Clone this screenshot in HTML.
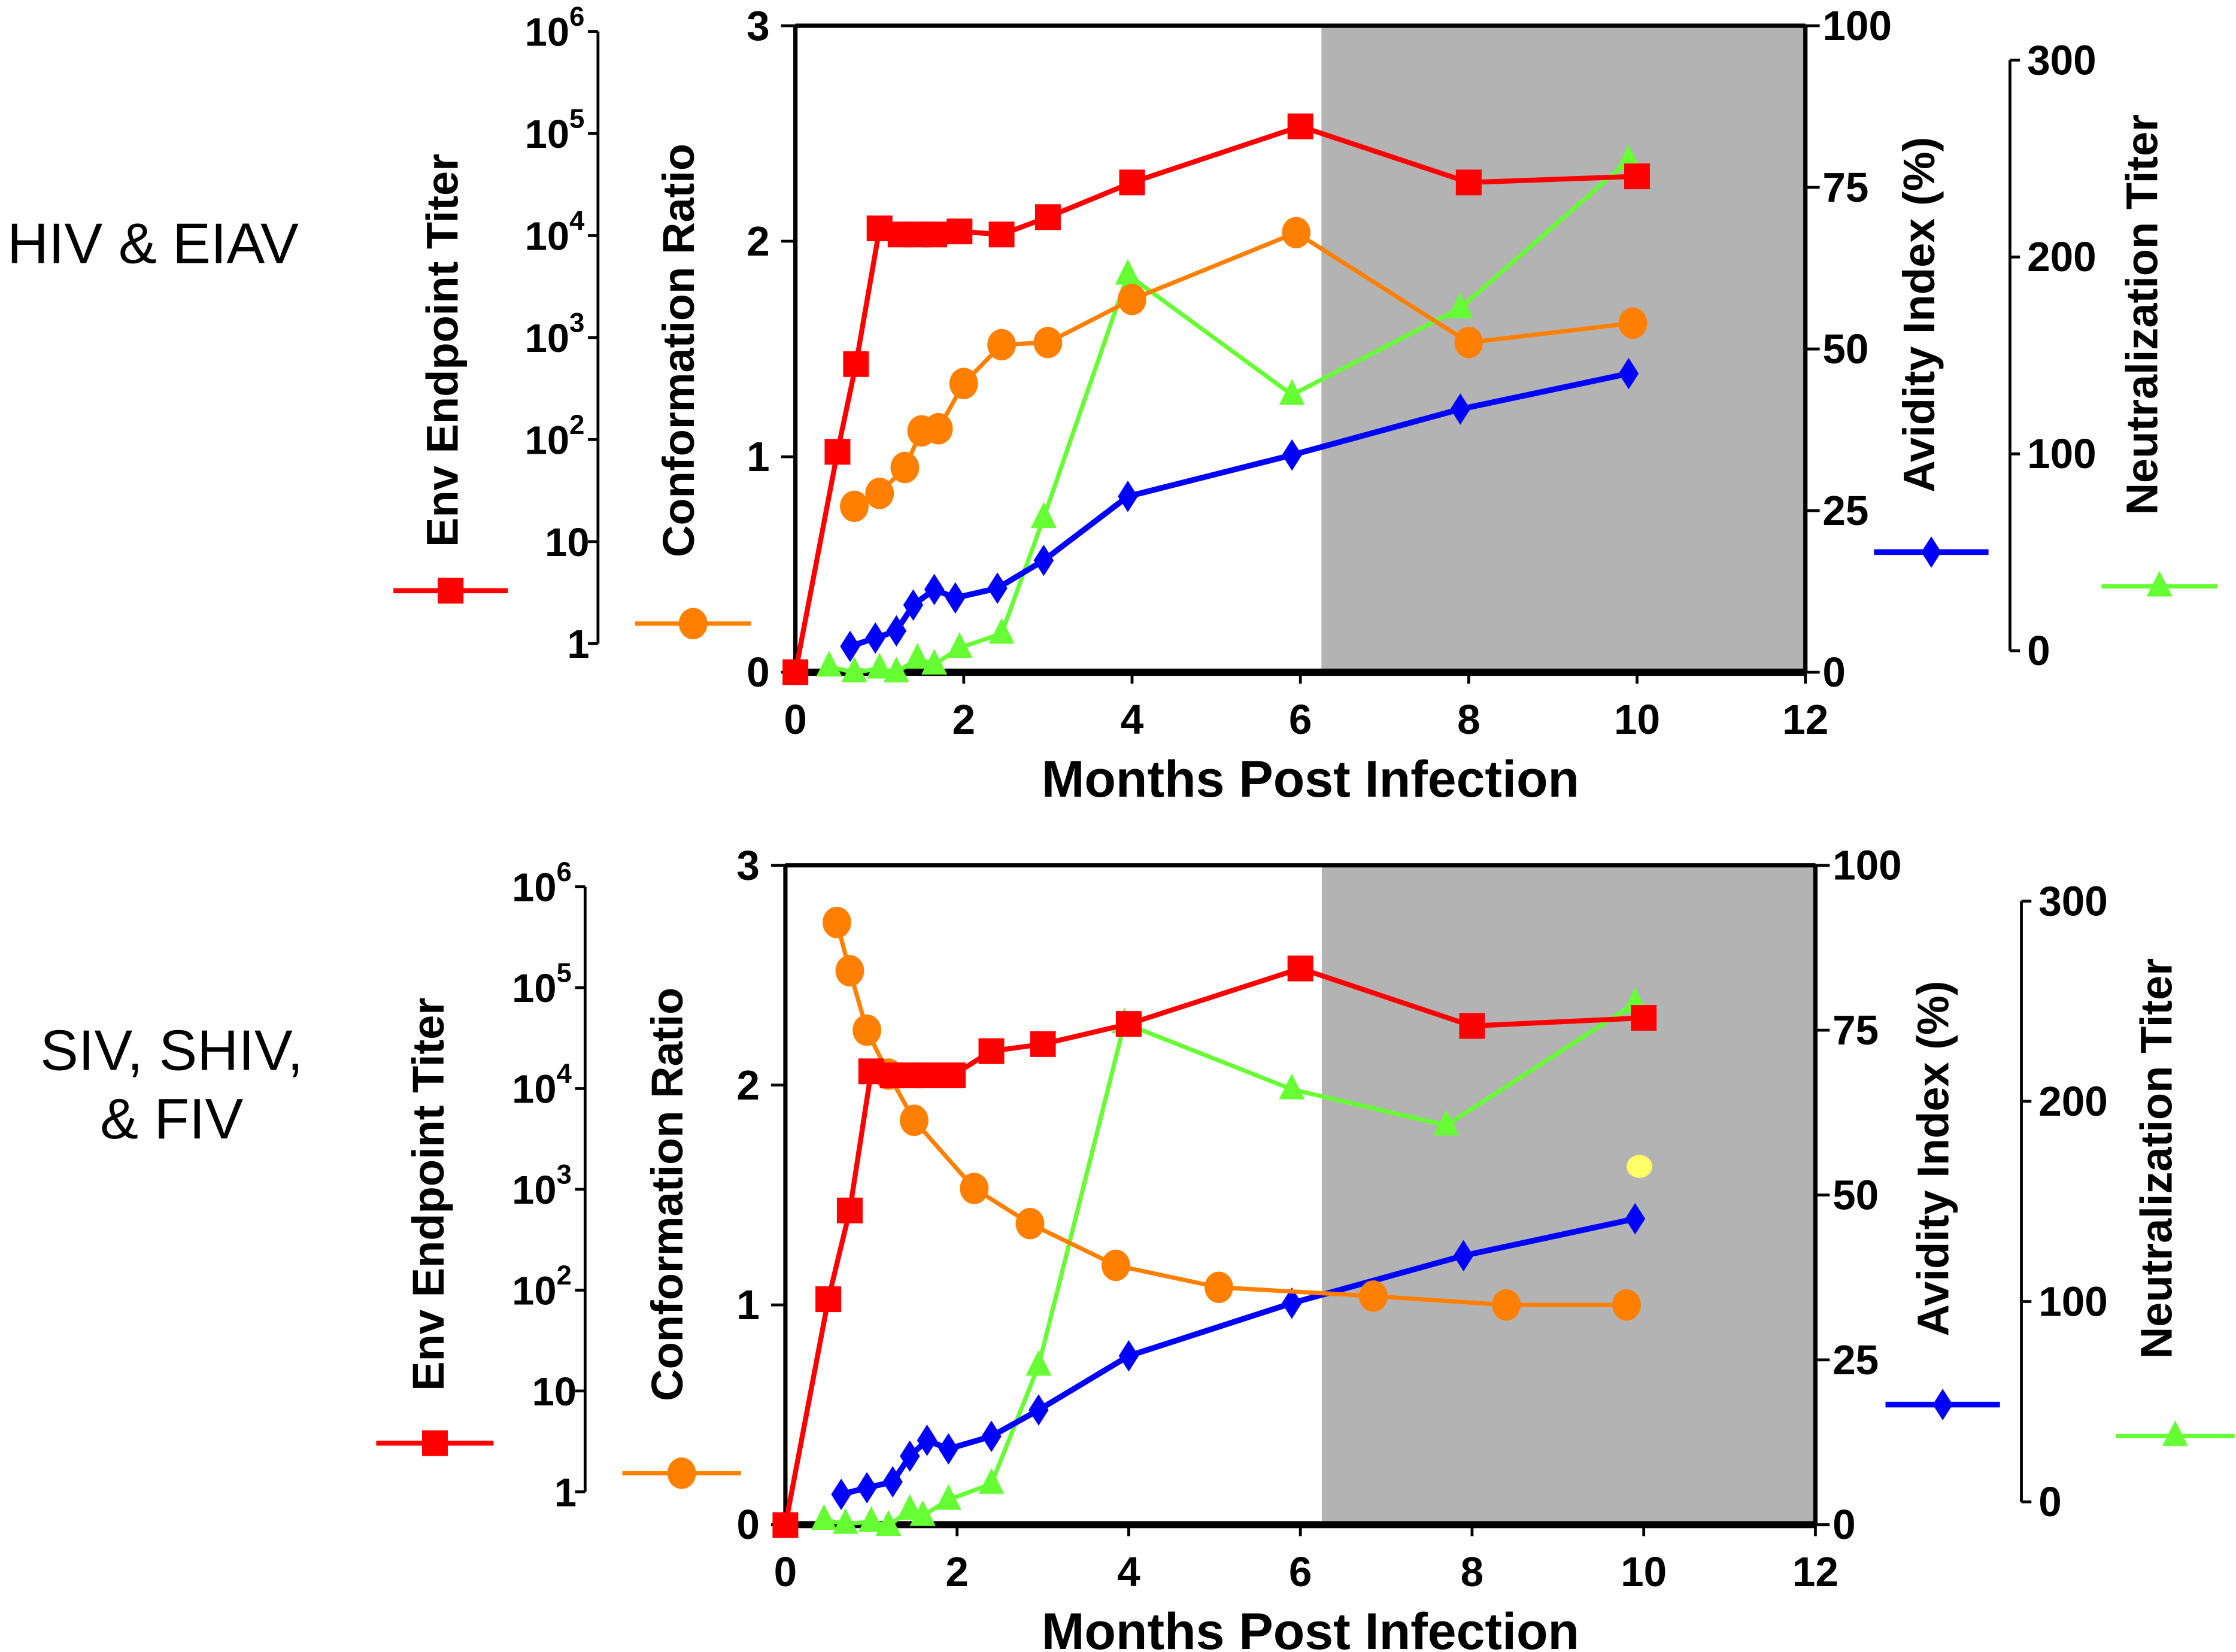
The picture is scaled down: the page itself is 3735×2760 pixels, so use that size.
<!DOCTYPE html>
<html><head><meta charset="utf-8"><style>
html,body{margin:0;padding:0;background:#fff}
svg{display:block;font-family:"Liberation Sans",Arial,sans-serif}
</style></head><body>
<svg id="chart" width="3735" height="2760" viewBox="0 0 1563 1155" xmlns="http://www.w3.org/2000/svg">
<text x="5" y="184" font-size="40">HIV &amp; EIAV</text>
<text x="120" y="748" font-size="40" text-anchor="middle">SIV, SHIV,</text>
<text x="120" y="796" font-size="40" text-anchor="middle">&amp; FIV</text>
</svg>
<script>
const monthTicks=[0,2,4,6,8,10,12];
const confTicks=[0,1,2,3];
const avidTicks=[0,25,50,75,100];
const neutTicks=[0,100,200,300];
const envTickExp=[0,1,2,3,4,5,6];
const envTickLabels=["1","10","10","10","10","10","10"];

const aRedX=[0,0.5,0.72,1.0,1.25,1.45,1.65,1.95,2.45,3.0,4.0,6.0,8.0,10.0];
const aRedLog=[-0.28,1.88,2.74,4.07,4.01,4.01,4.01,4.04,4.01,4.18,4.52,5.07,4.52,4.58];
const aOrX=[0.7,1.0,1.3,1.5,1.7,2.0,2.45,3.0,4.0,5.95,8.0,9.95];
const aOrY=[0.77,0.83,0.95,1.12,1.13,1.34,1.52,1.53,1.73,2.04,1.53,1.62];
const aBlX=[0.65,0.95,1.2,1.4,1.65,1.9,2.4,2.95,3.95,5.9,7.9,9.9];
const aBlY=[4.0,5.3,6.4,10.4,12.8,11.5,13,17.3,27.2,33.6,40.7,46.2];
const aGrX=[0.4,0.7,1.0,1.2,1.45,1.65,1.95,2.45,2.95,3.95,5.9,7.9,9.9];
const aGrY=[-8,-11,-9,-11,-4,-7,1.5,8.7,67.5,191,130,174,249];

const bRedX=[0,0.5,0.75,1.0,1.25,1.45,1.65,1.95,2.4,3.0,4.0,6.0,8.0,10.0];
const bRedLog=[-0.33,1.91,2.79,4.17,4.13,4.13,4.13,4.13,4.37,4.44,4.64,5.19,4.62,4.70];
const bOrX=[0.6,0.75,0.95,1.2,1.5,2.2,2.85,3.85,5.05,6.85,8.4,9.8];
const bOrY=[2.74,2.52,2.25,2.05,1.84,1.53,1.37,1.18,1.08,1.04,1.0,1.0];
const bYelX=[9.95];
const bYelY=[1.63];
const bBlX=[0.65,0.95,1.25,1.45,1.65,1.9,2.4,2.95,4.0,5.9,7.9,9.9];
const bBlY=[4.6,5.6,6.5,10.4,12.8,11.5,13.4,17.4,25.6,33.6,40.8,46.4];
const bGrX=[0.45,0.7,1.0,1.2,1.45,1.6,1.9,2.4,2.95,3.95,5.9,7.7,9.9];
const bGrY=[-9,-11,-10,-12,-4,-7,1,9,68,239,206,188,249];

const NS="http://www.w3.org/2000/svg";
const svg=document.getElementById('chart');
function mk(tag,attrs,parent,text){const e=document.createElementNS(NS,tag);for(const k in attrs)e.setAttribute(k,attrs[k]);if(text!==undefined)e.textContent=text;(parent||svg).appendChild(e);return e;}

function marker(g,type,cx,cy,color){
  let e;
  if(type==='sq'){e=mk('rect',{x:cx-9,y:cy-9,width:18,height:18,fill:color},g);}
  else if(type==='ci'){e=mk('ellipse',{cx:cx,cy:cy,rx:10,ry:11,fill:color},g);}
  else if(type==='di'){e=mk('polygon',{points:`${cx},${cy-11} ${cx+7},${cy} ${cx},${cy+11} ${cx-7},${cy}`,fill:color},g);}
  else {e=mk('polygon',{points:`${cx},${cy-11} ${cx+9},${cy+7} ${cx-9},${cy+7}`,fill:color},g);}
  return e;
}

function panel(P,D,id){
  const g=mk('g',{});
  
  
  const sx=m=>P.x0+(P.x1-P.x0)*m/12;
  const sc=v=>P.y0-(P.y0-P.y1)*v/3;
  const sa=v=>P.y0-(P.y0-P.y1)*v/100;
  const sn=v=>P.n0-(P.n0-P.n1)*v/300;
  const se=v=>P.e0-(P.e0-P.e1)*v/6;
  const sh=mk('rect',{x:sx(6.25),y:P.y1,width:P.x1-sx(6.25),height:P.y0-P.y1,fill:'#b3b3b3'},g);
  
  
  mk('line',{x1:P.x0,y1:P.y1,x2:P.x1,y2:P.y1,stroke:'#000','stroke-width':3},g);
  mk('line',{x1:P.x0,y1:P.y1,x2:P.x0,y2:P.y0,stroke:'#000','stroke-width':3},g);
  mk('line',{x1:P.x1,y1:P.y1,x2:P.x1,y2:P.y0,stroke:'#000','stroke-width':3},g);
  mk('line',{x1:P.x0,y1:P.y0,x2:P.x1,y2:P.y0,stroke:'#000','stroke-width':5},g);
  monthTicks.forEach(m=>{mk('line',{x1:sx(m),y1:P.y0,x2:sx(m),y2:P.y0+8,stroke:'#000','stroke-width':2},g);
    const t=mk('text',{x:sx(m),y:P.y0+43,'font-size':29,'font-weight':'bold','text-anchor':'middle'},g,String(m));
    });
  const xt=mk('text',{x:916,y:P.y0+87,'font-size':36,'font-weight':'bold','text-anchor':'middle'},g,'Months Post Infection');
  
  confTicks.forEach(v=>{mk('line',{x1:P.x0-10,y1:sc(v),x2:P.x0,y2:sc(v),stroke:'#000','stroke-width':2},g);
    const t=mk('text',{x:P.x0-18,y:sc(v)+10,'font-size':29,'font-weight':'bold','text-anchor':'end'},g,String(v));
    });
  avidTicks.forEach(v=>{mk('line',{x1:P.x1,y1:sa(v),x2:P.x1+10,y2:sa(v),stroke:'#000','stroke-width':2},g);
    const t=mk('text',{x:P.x1+12,y:sa(v)+10,'font-size':29,'font-weight':'bold'},g,String(v));
    });
  mk('line',{x1:P.nx,y1:P.n1,x2:P.nx,y2:P.n0,stroke:'#000','stroke-width':2},g);
  neutTicks.forEach(v=>{mk('line',{x1:P.nx,y1:sn(v),x2:P.nx+7,y2:sn(v),stroke:'#000','stroke-width':2},g);
    const t=mk('text',{x:P.nx+12,y:sn(v)+10,'font-size':29,'font-weight':'bold'},g,String(v));
    });
  mk('line',{x1:P.ex,y1:P.e1,x2:P.ex,y2:P.e0,stroke:'#000','stroke-width':2},g);
  envTickExp.forEach((v,i)=>{mk('line',{x1:P.ex-7,y1:se(v),x2:P.ex,y2:se(v),stroke:'#000','stroke-width':2},g);
    const t=mk('text',{x:P.ex-(v>=2?20:6),y:se(v)+10,'font-size':28,'font-weight':'bold','text-anchor':'end'},g,envTickLabels[i]);
    
    if(v>=2){const s=mk('text',{x:P.ex-20,y:se(v)-4,'font-size':19,'font-weight':'bold'},g,String(v));
      }});
  const titles=[[P.tEnv,'Env Endpoint Titer','env-axis-title'],[P.tConf,'Conformation Ratio','conformation-axis-title'],[P.tAvid,'Avidity Index (%)','avidity-axis-title'],[P.tNeut,'Neutralization Titer','neutralization-axis-title']];
  titles.forEach(([p,s,n])=>{const t=mk('text',{x:p[0],y:p[1],'font-size':31,'font-weight':'bold','text-anchor':'middle',transform:`rotate(-90 ${p[0]} ${p[1]})`},g,s);
    });
  const series=[
    [D.grX,D.grY,sn,'#66ff33',3,'tr','series-neutralization'],
    [D.blX,D.blY,sa,'#0000ff',4,'di','series-avidity'],
    [D.orX,D.orY,sc,'#ff8000',3,'ci','series-conformation'],
    [D.redX,D.redLog,se,'#ff0000',3.5,'sq','series-env-titer']];
  series.forEach(([xs,ys,f,c,w,m,n])=>{
    const sg=mk('g',{},g);
    
    
    const pts=xs.map((x,i)=>`${sx(x)},${f(ys[i])}`).join(' ');
    mk('polyline',{points:pts,fill:'none',stroke:c,'stroke-width':w,'stroke-linejoin':'round'},sg);
    xs.forEach((x,i)=>{const e=marker(sg,m,sx(x),f(ys[i]),c);
      
      });
  });
  if(D.yelX){D.yelX.forEach((x,i)=>{const e=mk('ellipse',{cx:sx(x),cy:sc(D.yelY[i]),rx:9,ry:8,fill:'#ffff66'},g);
    });}
  const legs=[[P.lRed,'#ff0000','sq',3.5,'legend-env-titer'],[P.lOr,'#ff8000','ci',3,'legend-conformation'],[P.lBl,'#0000ff','di',4,'legend-avidity'],[P.lGr,'#66ff33','tr',3,'legend-neutralization']];
  legs.forEach(([p,c,m,w,n])=>{const lg=mk('g',{},g);
    
    mk('line',{x1:p[0],y1:p[2],x2:p[1],y2:p[2],stroke:c,'stroke-width':w},lg);
    marker(lg,m,(p[0]+p[1])/2,p[2],c);});
}

panel({x0:556,x1:1262,y0:470,y1:18,n0:455,n1:42,nx:1405,e0:450,e1:22,ex:418,
  tEnv:[320,245],tConf:[485,245],tAvid:[1352,220],tNeut:[1508,220],
  lRed:[275,355,413],lOr:[444,525,436],lBl:[1310,1390,386],lGr:[1469,1550,410]},
  {redX:aRedX,redLog:aRedLog,orX:aOrX,orY:aOrY,blX:aBlX,blY:aBlY,grX:aGrX,grY:aGrY},'panel-hiv-eiav');
panel({x0:549,x1:1269,y0:1066,y1:605,n0:1050,n1:630,nx:1413,e0:1043,e1:620,ex:409,
  tEnv:[310,835],tConf:[477,835],tAvid:[1362,810],tNeut:[1518,810],
  lRed:[263,345,1009],lOr:[435,518,1030],lBl:[1318,1398,982],lGr:[1479,1562,1004]},
  {redX:bRedX,redLog:bRedLog,orX:bOrX,orY:bOrY,blX:bBlX,blY:bBlY,grX:bGrX,grY:bGrY,yelX:bYelX,yelY:bYelY},'panel-siv-shiv-fiv');
</script>
</body></html>
